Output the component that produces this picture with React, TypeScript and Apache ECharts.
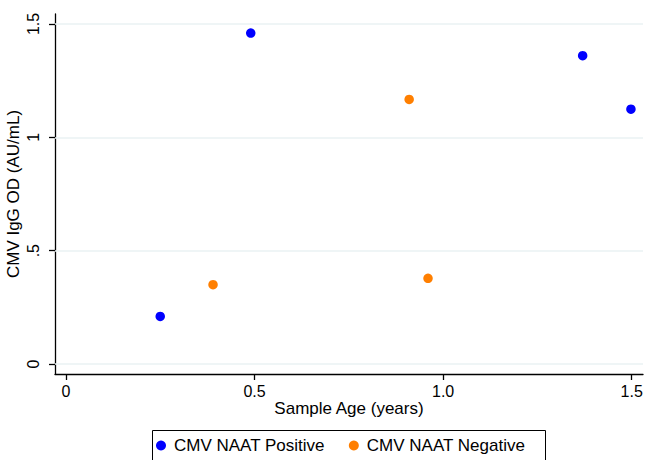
import React, { useEffect, useRef } from "react";
import * as echarts from "echarts";

const posAge = [0.25, 0.49, 1.37, 1.498];
const posOD = [0.21, 1.46, 1.36, 1.124];
const negAge = [0.39, 0.91, 0.96];
const negOD = [0.35, 1.167, 0.378];
const xTicks = [0, 0.5, 1, 1.5];
const yTicks = [0, 0.5, 1, 1.5];
const xTickLabels = ["0", "0.5", "1.0", "1.5"];
const yTickLabels = ["0", ".5", "1", "1.5"];
const seriesNames = ["CMV NAAT Positive", "CMV NAAT Negative"];

const FONT = "Arial, 'Liberation Sans', sans-serif";

export default function App() {
  const ref = useRef<HTMLDivElement>(null);
  useEffect(() => {
    if (!ref.current) return;
    const chart = echarts.init(ref.current, null, { renderer: "svg" });
    const pos = posAge.map((x, i) => [x, posOD[i]]);
    const neg = negAge.map((x, i) => [x, negOD[i]]);
    chart.setOption({
      animation: false,
      backgroundColor: "#fff",
      textStyle: { fontFamily: FONT },
      grid: {
        left: 55,
        right: 3,
        top: 14,
        bottom: 86,
        containLabel: false,
        outerBoundsMode: "none",
      },
      graphic: [
        {
          type: "rect",
          z: 0,
          shape: { x: 152.5, y: 430.5, width: 393, height: 40 },
          style: { fill: "#fff", stroke: "#000", lineWidth: 1 },
          silent: true,
        },
      ],
      xAxis: {
        type: "value",
        min: -0.029,
        max: 1.53,
        name: "Sample Age (years)",
        nameLocation: "middle",
        nameGap: 26,
        nameMoveOverlap: false,
        nameTextStyle: { color: "#000", fontSize: 17, fontFamily: FONT },
        axisLine: { show: true, onZero: false, lineStyle: { color: "#000", width: 1.3 } },
        axisTick: { show: true, inside: false, length: 6, customValues: xTicks, lineStyle: { color: "#000", width: 1.3 } },
        axisLabel: {
          customValues: xTicks,
          margin: 9,
          color: "#000",
          fontSize: 16,
          fontFamily: FONT,
          formatter: (v: number) => xTickLabels[xTicks.indexOf(v)] ?? String(v),
        },
        splitLine: { show: false },
      },
      yAxis: {
        type: "value",
        min: -0.044,
        max: 1.544,
        name: "CMV IgG OD (AU/mL)",
        nameLocation: "middle",
        nameGap: 33,
        nameMoveOverlap: false,
        nameRotate: 90,
        nameTextStyle: { color: "#000", fontSize: 17, fontFamily: FONT },
        axisLine: { show: true, onZero: false, lineStyle: { color: "#000", width: 1.3 } },
        axisTick: { show: true, inside: false, length: 6, customValues: yTicks, lineStyle: { color: "#000", width: 1.3 } },
        axisLabel: {
          customValues: yTicks,
          rotate: 90,
          margin: 14,
          color: "#000",
          fontSize: 16,
          fontFamily: FONT,
          formatter: (v: number) => yTickLabels[yTicks.indexOf(v)] ?? String(v),
        },
        splitLine: { show: false },
      },
      legend: {
        left: 156,
        top: 437,
        z: 5,
        orient: "horizontal",
        padding: 0,
        itemWidth: 16,
        itemHeight: 10,
        itemGap: 24,
        borderWidth: 0,
        icon: "circle",
        textStyle: { color: "#000", fontSize: 17, fontFamily: FONT },
        data: seriesNames,
      },
      series: [
        {
          name: seriesNames[0],
          type: "scatter",
          symbol: "circle",
          symbolSize: 9.5,
          itemStyle: { color: "#0000ff", opacity: 1 },
          data: pos,
          z: 3,
          markLine: {
            silent: true,
            symbol: "none",
            label: { show: false },
            lineStyle: { color: "#eaf2f3", width: 1.6, type: "solid" },
            data: yTicks.map((v) => ({ yAxis: v })),
            z: 1,
          },
        },
        {
          name: seriesNames[1],
          type: "scatter",
          symbol: "circle",
          symbolSize: 9.5,
          itemStyle: { color: "#ff7f00", opacity: 1 },
          data: neg,
          z: 3,
        },
      ],
    });
    return () => chart.dispose();
  }, []);
  return (
    <div
      ref={ref}
      style={{ position: "fixed", left: 0, top: 0, width: 646, height: 460 }}
    />
  );
}
